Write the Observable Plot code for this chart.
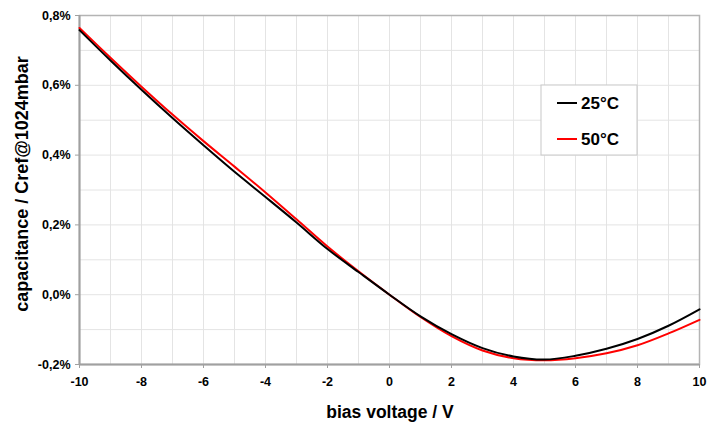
<!DOCTYPE html>
<html>
<head>
<meta charset="utf-8">
<script src="https://cdn.jsdelivr.net/npm/d3@7"></script>
<script src="https://cdn.jsdelivr.net/npm/@observablehq/plot@0.6"></script>
<style>
  html, body { margin: 0; padding: 0; background: #fff; }
  #chart svg { display: block; }
</style>
</head>
<body>
<div id="chart"></div>
<script>
const voltage = [-10,-9,-8,-7,-6,-5,-4,-3,-2,-1,0,1,2,3,4,5,6,7,8,9,10];
const cap25 = [0.758,0.671,0.587,0.506,0.428,0.352,0.280,0.207,0.131,0.065,0.0,-0.062,-0.113,-0.153,-0.177,-0.186,-0.175,-0.155,-0.127,-0.089,-0.042];
const cap50 = [0.764,0.679,0.596,0.516,0.440,0.367,0.293,0.216,0.138,0.067,0.0,-0.064,-0.119,-0.160,-0.182,-0.188,-0.182,-0.168,-0.145,-0.111,-0.072];
const seriesNames = ["25°C", "50°C"];
const seriesColors = ["#000000", "#ff0000"];
const xTicks = [-10,-8,-6,-4,-2,0,2,4,6,8,10];
const yTicks = [-0.2,0,0.2,0.4,0.6,0.8];
const xGrid = d3.range(-10, 11, 1);
const yGrid = [-0.2,-0.1,0,0.1,0.2,0.3,0.4,0.5,0.6,0.7,0.8];

const data = [];
voltage.forEach((v, i) => {
  data.push({v, c: cap25[i], s: seriesNames[0]});
  data.push({v, c: cap50[i], s: seriesNames[1]});
});

const W = 722, H = 423;
const fmtY = d => d.toFixed(1).replace(".", ",") + "%";

const plot = Plot.plot({
  width: W,
  height: H,
  marginLeft: 79,
  marginRight: 23,
  marginTop: 15,
  marginBottom: 59,
  style: {fontFamily: "'Liberation Sans', Arial, sans-serif", fontWeight: "bold", background: "#fff", color: "#000"},
  x: {domain: [-10, 10]},
  y: {domain: [-0.2, 0.8]},
  color: {domain: seriesNames, range: seriesColors},
  marks: [
    Plot.ruleX(xGrid, {stroke: "#e4e4e4", strokeWidth: 1}),
    Plot.ruleY(yGrid, {stroke: "#e4e4e4", strokeWidth: 1}),
    Plot.frame({stroke: "#b4b4b4", strokeWidth: 1.5}),
    Plot.ruleX([-10], {stroke: "#a0a0a0", strokeWidth: 2}),
    Plot.ruleY([-0.2], {stroke: "#a0a0a0", strokeWidth: 2}),
    Plot.axisX({ticks: xTicks, tickSize: 4, tickPadding: 9, fontSize: 12.5, stroke: "#a0a0a0", label: null, tickFormat: d => String(d)}),
    Plot.axisY({ticks: yTicks, tickSize: 4, tickPadding: 5, fontSize: 12.5, stroke: "#a0a0a0", label: null, tickFormat: fmtY}),
    Plot.line(data.filter(d => d.s === seriesNames[1]), {x: "v", y: "c", stroke: "s", strokeWidth: 2, curve: "catmull-rom"}),
    Plot.line(data.filter(d => d.s === seriesNames[0]), {x: "v", y: "c", stroke: "s", strokeWidth: 2, curve: "catmull-rom"})
  ]
});

document.getElementById("chart").appendChild(plot);

const svg = d3.select(plot);
// axis titles
svg.append("text")
  .attr("transform", "translate(22,184) rotate(-90)")
  .attr("text-anchor", "middle")
  .attr("dominant-baseline", "central")
  .style("font-size", "18px").style("font-weight", "bold")
  .text("capacitance / Cref@1024mbar");
svg.append("text")
  .attr("x", 390).attr("y", 418)
  .attr("text-anchor", "middle")
  .style("font-size", "17.5px").style("font-weight", "bold")
  .text("bias voltage / V");

// legend
const lg = svg.append("g");
lg.append("rect").attr("x", 541).attr("y", 85).attr("width", 96).attr("height", 70)
  .attr("fill", "#fff").attr("stroke", "#c8c8c8").attr("stroke-width", 1);
seriesNames.forEach((name, i) => {
  const yy = 103 + i * 36;
  lg.append("line").attr("x1", 557).attr("x2", 577).attr("y1", yy).attr("y2", yy)
    .attr("stroke", seriesColors[i]).attr("stroke-width", 2);
  lg.append("text").attr("x", 581).attr("y", yy)
    .attr("text-anchor", "start")
    .attr("dominant-baseline", "central")
    .style("font-size", "17px").style("font-weight", "bold").text(name);
});
</script>
</body>
</html>
